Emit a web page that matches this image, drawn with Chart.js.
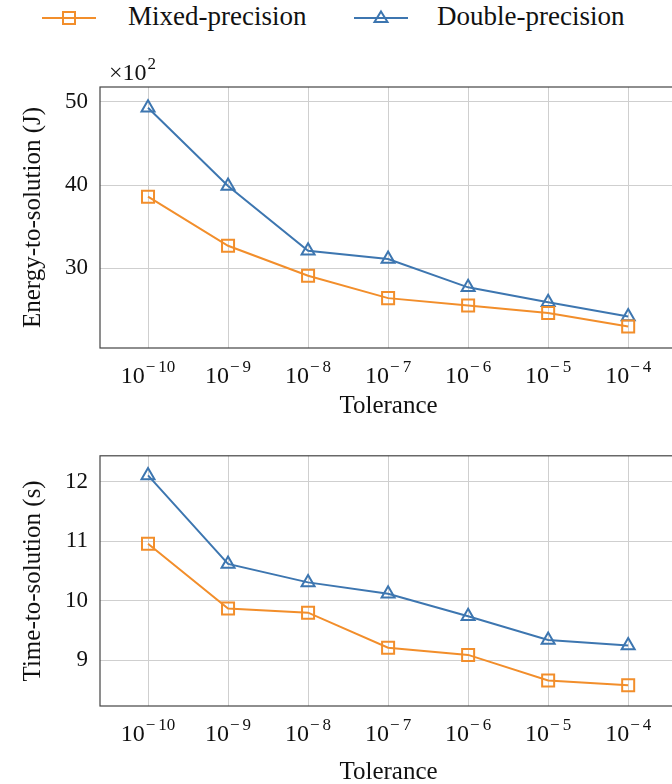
<!DOCTYPE html>
<html>
<head>
<meta charset="utf-8">
<script src="https://cdn.jsdelivr.net/npm/chart.js@4.4.1/dist/chart.umd.min.js"></script>
<style>
  html, body { margin: 0; padding: 0; background: #fff; overflow: hidden; width: 672px; height: 784px; }
  .legend { position: absolute; left: 0; top: 0; width: 672px; height: 40px; font-family: "Liberation Serif", serif; font-size: 27px; color: #111; }
  .legend svg, .legend span { position: absolute; }
  #wrap-energy { position: absolute; left: 0; top: 40px; }
  #wrap-time { position: absolute; left: 0; top: 430px; }
</style>
</head>
<body>
<div class="legend">
  <svg style="left:40px; top:8px" width="58" height="20">
    <line x1="2" y1="10" x2="56" y2="10" stroke="#f28e2b" stroke-width="2"/>
    <rect x="23" y="4" width="12" height="12" fill="none" stroke="#f28e2b" stroke-width="2"/>
  </svg>
  <span style="left:128px; top:1px">Mixed-precision</span>
  <svg style="left:352px; top:8px" width="58" height="20">
    <line x1="2" y1="10" x2="56" y2="10" stroke="#3d76b0" stroke-width="2"/>
    <polygon points="29,3.5 35.5,14 22.5,14" fill="none" stroke="#3d76b0" stroke-width="2"/>
  </svg>
  <span style="left:437px; top:1px">Double-precision</span>
</div>
<div id="wrap-energy"><canvas id="energyChart" width="680" height="390"></canvas></div>
<div id="wrap-time"><canvas id="timeChart" width="680" height="357"></canvas></div>
<script>
const tolExp = [-10, -9, -8, -7, -6, -5, -4];
const energyMixed = [38.6, 32.7, 29.1, 26.4, 25.5, 24.6, 23.0];
const energyDouble = [49.3, 39.9, 32.1, 31.1, 27.7, 25.9, 24.2];
const timeMixed = [10.96, 9.87, 9.80, 9.21, 9.09, 8.66, 8.58];
const timeDouble = [12.11, 10.62, 10.31, 10.12, 9.74, 9.34, 9.25];
const energyTicks = [30, 40, 50];
const timeTicks = [9, 10, 11, 12];

const ORANGE = '#f28e2b';
const BLUE = '#3d76b0';
const FONT = '"Liberation Serif", serif';

function pts(ys) { return tolExp.map((x, i) => ({ x: x, y: ys[i] })); }

// frame + "10^n" tick labels (+ optional x10^2 marker)
const paperPlugin = {
    id: 'paper',
    beforeDatasetsDraw(chart) {
        const a = chart.chartArea;
        const ctx = chart.ctx;
        ctx.save();
        ctx.strokeStyle = '#444';
        ctx.lineWidth = 1.2;
        ctx.strokeRect(a.left, a.top, a.right - a.left, a.bottom - a.top);
        ctx.restore();
    },
    afterDraw(chart) {
        const ctx = chart.ctx;
        const a = chart.chartArea;
        const xs = chart.scales.x;
        ctx.save();
        ctx.fillStyle = '#111';
        ctx.textBaseline = 'alphabetic';
        ctx.textAlign = 'left';
        const base = a.bottom + 35;
        tolExp.forEach(v => {
            const px = xs.getPixelForValue(v);
            const num = String(Math.abs(v));
            ctx.font = '24px ' + FONT;
            const w1 = ctx.measureText('10').width;
            ctx.font = '17px ' + FONT;
            const wm = ctx.measureText('\u2212').width + 3;
            const w2 = wm + ctx.measureText(num).width;
            const x0 = px - (w1 + w2 + 1) / 2;
            ctx.font = '24px ' + FONT;
            ctx.fillText('10', x0, base);
            ctx.font = '17px ' + FONT;
            ctx.fillText('\u2212', x0 + w1 + 1, base - 11);
            ctx.fillText(num, x0 + w1 + 1 + wm, base - 11);
        });
        const mult = chart.options.plugins.paper.multiplier;
        if (mult) {
            ctx.font = '24px ' + FONT;
            const x0 = a.left + 9;
            const yb = a.top - 7;
            ctx.fillText('\u00d710', x0, yb);
            const w = ctx.measureText('\u00d710').width;
            ctx.font = '17px ' + FONT;
            ctx.fillText(mult, x0 + w + 1, yb - 11);
        }
        ctx.restore();
    }
};

function makeChart(id, mixed, dbl, yMin, yMax, yTicks, yTitle, pad, xHeight, titlePad, mult) {
    const ctx = document.getElementById(id).getContext('2d');
    return new Chart(ctx, {
        type: 'line',
        data: {
            datasets: [
                { label: 'Mixed-precision', data: pts(mixed), borderColor: ORANGE, backgroundColor: 'rgba(0,0,0,0)',
                  borderWidth: 2, pointStyle: 'rect', pointRadius: 8.5, pointBorderWidth: 2, pointBorderColor: ORANGE, tension: 0 },
                { label: 'Double-precision', data: pts(dbl), borderColor: BLUE, backgroundColor: 'rgba(0,0,0,0)',
                  borderWidth: 2, pointStyle: 'triangle', pointRadius: 7.5, pointBorderWidth: 2, pointBorderColor: BLUE, tension: 0 }
            ]
        },
        options: {
            responsive: false,
            animation: false,
            layout: { padding: pad, autoPadding: false },
            plugins: {
                legend: { display: false },
                tooltip: { enabled: false },
                paper: { multiplier: mult }
            },
            scales: {
                x: {
                    type: 'linear', min: -10.6, max: -3.39,
                    afterBuildTicks: s => { s.ticks = tolExp.map(v => ({ value: v })); },
                    afterFit: s => { s.height = xHeight; },
                    ticks: { display: false },
                    grid: { color: '#cfcfcf', lineWidth: 1, drawTicks: false },
                    border: { display: false },
                    title: { display: true, text: 'Tolerance', color: '#111', font: { family: FONT, size: 25 }, padding: { top: 0, bottom: titlePad } }
                },
                y: {
                    min: yMin, max: yMax,
                    afterBuildTicks: s => { s.ticks = yTicks.map(v => ({ value: v })); },
                    afterFit: s => { s.width = 100; },
                    ticks: { color: '#111', padding: 12, font: { family: FONT, size: 23 } },
                    grid: { color: '#cfcfcf', lineWidth: 1, drawTicks: false },
                    border: { display: false },
                    title: { display: true, text: yTitle, color: '#111', font: { family: FONT, size: 25 }, padding: { top: 18, bottom: 0 } }
                }
            }
        },
        plugins: [paperPlugin]
    });
}

makeChart('energyChart', energyMixed, energyDouble, 20.4, 51.8, energyTicks, 'Energy-to-solution (J)',
    { top: 47, left: 0, right: 3, bottom: 0 }, 82, 9, '2');
makeChart('timeChart', timeMixed, timeDouble, 8.23, 12.44, timeTicks, 'Time-to-solution (s)',
    { top: 15, left: 0, right: 3, bottom: 0 }, 81, 0, null);
</script>
</body>
</html>
